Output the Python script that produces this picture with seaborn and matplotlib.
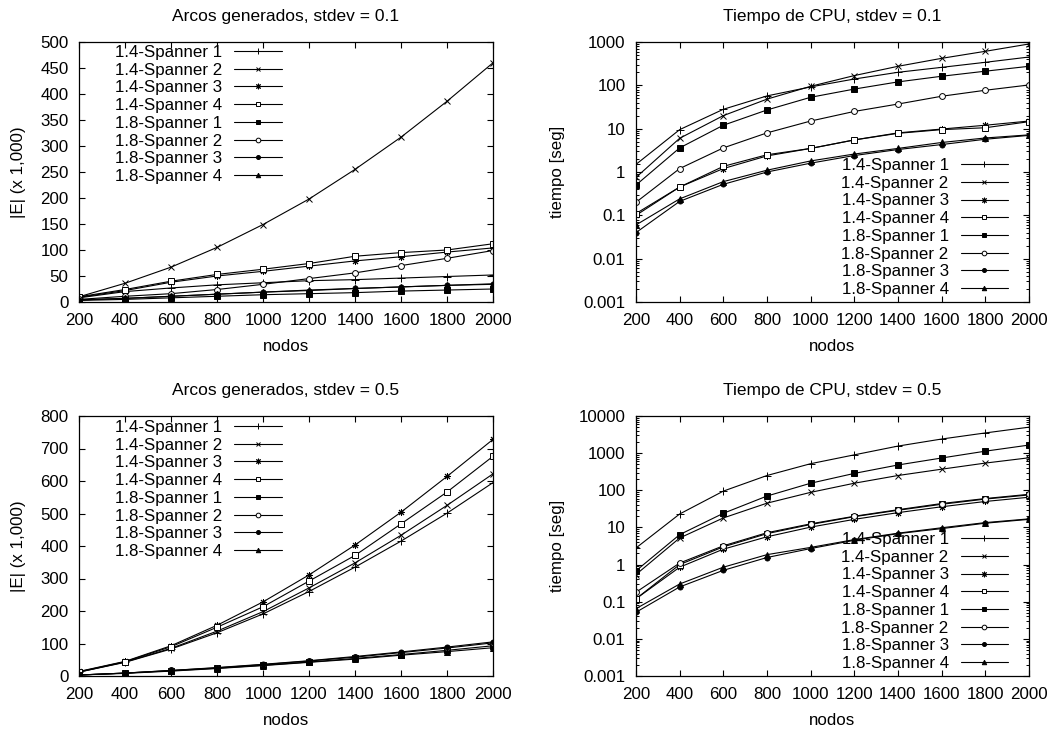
import numpy as np
import pandas as pd
import matplotlib
matplotlib.use("Agg")
import matplotlib.pyplot as plt
import seaborn as sns
from matplotlib.ticker import LogLocator, NullFormatter

nodos = [200, 400, 600, 800, 1000, 1200, 1400, 1600, 1800, 2000]
series_names = ["1.4-Spanner 1", "1.4-Spanner 2", "1.4-Spanner 3", "1.4-Spanner 4",
                "1.8-Spanner 1", "1.8-Spanner 2", "1.8-Spanner 3", "1.8-Spanner 4"]

# Arcos generados, stdev = 0.1  (|E| x 1,000)
arcos_01_s14_1 = [8, 20, 27, 33, 37, 41, 43, 46, 49, 52]
arcos_01_s14_2 = [10, 36, 67, 105, 149, 198, 255, 317, 386, 460]
arcos_01_s14_3 = [9, 22, 38, 50, 59, 69, 79, 87, 96, 104]
arcos_01_s14_4 = [10, 24, 40, 53, 63, 74, 88, 95, 100, 112]
arcos_01_s18_1 = [3, 5, 8, 11, 14, 16, 18, 21, 23, 25]
arcos_01_s18_2 = [5, 11, 16, 24, 34, 45, 56, 70, 84, 99]
arcos_01_s18_3 = [4, 7, 11, 15, 19, 22, 26, 29, 32, 34]
arcos_01_s18_4 = [4, 7, 11, 15, 19, 23, 26, 29, 32, 35]

# Tiempo de CPU, stdev = 0.1 (seg)
cpu_01_s14_1 = [1.5, 9.5, 28, 57, 92, 140, 200, 260, 340, 450]
cpu_01_s14_2 = [0.75, 6.0, 20, 48, 95, 168, 275, 420, 610, 900]
cpu_01_s14_3 = [0.1, 0.45, 1.2, 2.35, 3.5, 5.5, 8.0, 9.8, 12, 15]
cpu_01_s14_4 = [0.11, 0.45, 1.35, 2.5, 3.5, 5.5, 7.8, 9.5, 10.5, 14.5]
cpu_01_s18_1 = [0.5, 3.6, 12, 27, 53, 82, 120, 162, 212, 275]
cpu_01_s18_2 = [0.2, 1.2, 3.6, 8.0, 15, 25, 37, 56, 77, 102]
cpu_01_s18_3 = [0.04, 0.21, 0.52, 1.0, 1.6, 2.4, 3.3, 4.3, 5.7, 7.0]
cpu_01_s18_4 = [0.06, 0.24, 0.6, 1.1, 1.8, 2.6, 3.5, 4.8, 6.1, 7.2]

# Arcos generados, stdev = 0.5
arcos_05_s14_1 = [12, 42, 83, 133, 191, 260, 335, 415, 501, 595]
arcos_05_s14_2 = [12, 43, 85, 138, 198, 271, 348, 433, 525, 622]
arcos_05_s14_3 = [14, 45, 93, 156, 228, 311, 403, 504, 614, 728]
arcos_05_s14_4 = [13, 44, 90, 150, 213, 292, 371, 468, 566, 676]
arcos_05_s18_1 = [3, 9, 16, 24, 33, 43, 54, 66, 79, 93]
arcos_05_s18_2 = [3, 9, 17, 25, 35, 46, 58, 72, 86, 102]
arcos_05_s18_3 = [3, 9, 17, 26, 36, 47, 60, 74, 89, 105]
arcos_05_s18_4 = [3, 8, 15, 23, 32, 42, 52, 64, 75, 87]

# Tiempo de CPU, stdev = 0.5
cpu_05_s14_1 = [2.8, 23, 95, 250, 520, 900, 1550, 2400, 3500, 5000]
cpu_05_s14_2 = [0.54, 5.2, 18, 45, 88, 155, 250, 370, 540, 750]
cpu_05_s14_3 = [0.12, 0.85, 2.6, 5.6, 10.2, 16.5, 25, 36, 50, 65]
cpu_05_s14_4 = [0.12, 1.0, 3.0, 6.8, 12, 19.5, 29, 42, 58, 75]
cpu_05_s18_1 = [0.68, 6.4, 24, 70, 155, 285, 480, 740, 1130, 1650]
cpu_05_s18_2 = [0.18, 1.1, 3.2, 7.2, 12.5, 20, 30, 44, 60, 78]
cpu_05_s18_3 = [0.052, 0.25, 0.7, 1.55, 2.7, 4.5, 6.8, 9.3, 13, 16.5]
cpu_05_s18_4 = [0.065, 0.3, 0.85, 1.85, 2.9, 4.7, 7.0, 9.8, 13.5, 17]

panels = [
    dict(title="Arcos generados, stdev = 0.1", ylabel="|E| (x 1,000)", log=False,
         ylim=(0, 500), yticks=[0, 50, 100, 150, 200, 250, 300, 350, 400, 450, 500],
         data=[arcos_01_s14_1, arcos_01_s14_2, arcos_01_s14_3, arcos_01_s14_4,
               arcos_01_s18_1, arcos_01_s18_2, arcos_01_s18_3, arcos_01_s18_4],
         rect=(79, 42, 493, 302), legend="tl", ylabelx=26),
    dict(title="Tiempo de CPU, stdev = 0.1", ylabel="tiempo [seg]", log=True,
         ylim=(0.001, 1000), yticks=[0.001, 0.01, 0.1, 1, 10, 100, 1000],
         data=[cpu_01_s14_1, cpu_01_s14_2, cpu_01_s14_3, cpu_01_s14_4,
               cpu_01_s18_1, cpu_01_s18_2, cpu_01_s18_3, cpu_01_s18_4],
         rect=(636, 42, 1029, 302), legend="br", ylabelx=565),
    dict(title="Arcos generados, stdev = 0.5", ylabel="|E| (x 1,000)", log=False,
         ylim=(0, 800), yticks=[0, 100, 200, 300, 400, 500, 600, 700, 800],
         data=[arcos_05_s14_1, arcos_05_s14_2, arcos_05_s14_3, arcos_05_s14_4,
               arcos_05_s18_1, arcos_05_s18_2, arcos_05_s18_3, arcos_05_s18_4],
         rect=(79, 416, 493, 676), legend="tl", ylabelx=26),
    dict(title="Tiempo de CPU, stdev = 0.5", ylabel="tiempo [seg]", log=True,
         ylim=(0.001, 10000), yticks=[0.001, 0.01, 0.1, 1, 10, 100, 1000, 10000],
         data=[cpu_05_s14_1, cpu_05_s14_2, cpu_05_s14_3, cpu_05_s14_4,
               cpu_05_s18_1, cpu_05_s18_2, cpu_05_s18_3, cpu_05_s18_4],
         rect=(636, 416, 1029, 676), legend="br", ylabelx=565),
]

marker_styles = [
    dict(marker="+", ms=5.5, mfc="black"),
    dict(marker="x", ms=4.2, mfc="black"),
    dict(marker=(8, 2, 0), ms=5.0, mfc="black"),
    dict(marker="s", ms=4.2, mfc="white"),
    dict(marker="s", ms=4.2, mfc="black"),
    dict(marker="o", ms=4.2, mfc="white"),
    dict(marker="o", ms=3.6, mfc="black"),
    dict(marker="^", ms=4.0, mfc="black"),
]

sns.set_theme(style="ticks")
plt.rcParams["font.family"] = ["Liberation Sans", "DejaVu Sans"]
plt.rcParams["axes.edgecolor"] = "black"
plt.rcParams["axes.linewidth"] = 0.9
plt.rcParams["text.color"] = "black"
plt.rcParams["axes.labelcolor"] = "black"
plt.rcParams["xtick.color"] = "black"
plt.rcParams["ytick.color"] = "black"

W, H = 1060, 730
FS = 12.2
fig = plt.figure(figsize=(W / 100, H / 100), dpi=100)

def fmt(v):
    if v >= 1:
        return f"{int(v)}"
    return f"{v:g}"

for p in panels:
    l, t, r, b = p["rect"]
    ax = fig.add_axes([l / W, 1 - b / H, (r - l) / W, (b - t) / H])
    for name, vals, ms in zip(series_names, p["data"], marker_styles):
        df = pd.DataFrame({"nodos": nodos, "valor": vals})
        sns.lineplot(data=df, x="nodos", y="valor", ax=ax, color="black", lw=0.8,
                     marker=ms["marker"], markersize=ms["ms"], markerfacecolor=ms["mfc"],
                     markeredgecolor="black", markeredgewidth=0.7, label=name)
    if p["log"]:
        ax.set_yscale("log")
        ax.yaxis.set_minor_locator(LogLocator(base=10, subs=np.arange(2, 10)))
        ax.yaxis.set_minor_formatter(NullFormatter())
    ax.set_ylim(*p["ylim"])
    ax.set_yticks(p["yticks"])
    ax.set_yticklabels([fmt(v) for v in p["yticks"]])
    ax.set_xlim(200, 2000)
    ax.set_xticks(nodos)
    ax.set_xticklabels([str(v) for v in nodos])
    ax.tick_params(axis="both", which="major", direction="in", length=4.5, width=0.8,
                   top=True, right=True, labelsize=FS)
    ax.tick_params(axis="x", which="major", pad=8)
    ax.tick_params(axis="y", which="major", pad=7.5)
    ax.tick_params(axis="both", which="minor", direction="in", length=2.5, width=0.7,
                   top=True, right=True)
    ax.set_title(p["title"], fontsize=12.5, pad=15)
    ax.set_xlabel("nodos", fontsize=FS, labelpad=8)
    ax.set_ylabel(p["ylabel"], fontsize=FS)
    ax.yaxis.set_label_coords((p["ylabelx"] - l) / (r - l), 0.5)
    for s in ax.spines.values():
        s.set_visible(True)
    handles, labels = ax.get_legend_handles_labels()
    if ax.get_legend():
        ax.get_legend().remove()
    common = dict(frameon=False, markerfirst=False, fontsize=FS, handlelength=2.8,
                  handletextpad=0.7, labelspacing=0.16, borderpad=0.0,
                  borderaxespad=0.0, markerscale=0.8)
    if p["legend"] == "tl":
        top_px = 45 if t == 42 else 420
        ax.legend(handles, labels, loc="upper left",
                  bbox_to_anchor=((115 - l) / (r - l), 1 - (top_px - t) / (b - t)), **common)
    else:
        ax.legend(handles, labels, loc="lower right",
                  bbox_to_anchor=((1008 - l) / (r - l), 5 / (b - t)), **common)

fig.savefig("out.png", dpi=100)
